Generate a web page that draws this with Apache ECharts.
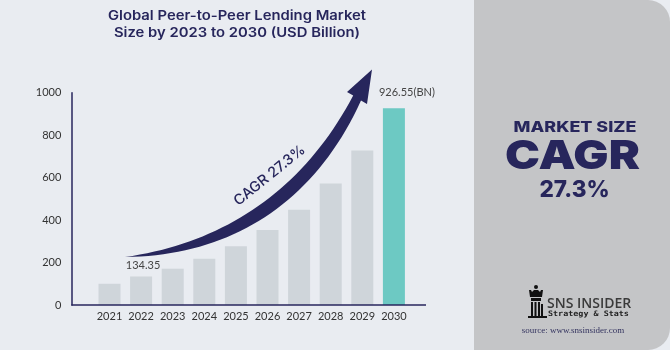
<!DOCTYPE html>
<html>
<head>
<meta charset="utf-8">
<script src="https://cdn.jsdelivr.net/npm/echarts@6/dist/echarts.min.js"></script>
<style>
html,body{margin:0;padding:0;background:#e9ecf1;}
#chart{width:670px;height:350px;}
</style>
</head>
<body>
<div id="chart"></div>
<script>
var categories = ['2021','2022','2023','2024','2025','2026','2027','2028','2029','2030'];
var marketSize = [100, 134.35, 171, 218, 277, 353, 449, 572, 728, 926.55];
var yTicks = [0, 200, 400, 600, 800, 1000];
var titleLines = ['Global Peer-to-Peer Lending Market', 'Size by 2023 to 2030 (USD Billion)'];
var cagrText = 'CAGR 27.3%';

var navy = '#27265c';
var chart = echarts.init(document.getElementById('chart'), null, {renderer: 'canvas'});

function bez(p0, p1, p2, p3, n) {
  var pts = [];
  for (var i = 0; i <= n; i++) {
    var t = i / n, u = 1 - t;
    pts.push([
      u*u*u*p0[0] + 3*u*u*t*p1[0] + 3*u*t*t*p2[0] + t*t*t*p3[0],
      u*u*u*p0[1] + 3*u*u*t*p1[1] + 3*u*t*t*p2[1] + t*t*t*p3[1]
    ]);
  }
  return pts;
}
var upper = bez([125,257],[225,243],[304,189],[353.2,95.5], 40);
var lower = bez([361,100.5],[314,204],[230,256],[125,257], 40);
var arrowPts = upper.concat([[347,92],[372,69.5],[367,104]]).concat(lower);

var barData = marketSize.map(function (v, i) {
  var last = i === marketSize.length - 1;
  var item = {value: v, itemStyle: {color: last ? '#6dc9c3' : '#cfd5da'}};
  if (i === 1) {
    item.label = {show: true, position: 'top', formatter: '134.35', offset: [2, -1]};
  }
  if (last) {
    item.label = {show: true, position: 'top', formatter: '926.55(BN)', offset: [13, -5]};
  }
  return item;
});

var option = {
  backgroundColor: '#e9ecf1',
  animation: false,
  grid: {left: 93.7, right: 260.3, top: 92.67, bottom: 45},
  xAxis: {
    type: 'category',
    data: categories,
    axisLine: {show: false},
    axisTick: {show: false},
    axisLabel: {color: '#333', fontSize: 11, fontFamily: 'Lato', margin: 6, interval: 0}
  },
  yAxis: {
    type: 'value',
    min: yTicks[0],
    max: yTicks[yTicks.length - 1],
    interval: 200,
    offset: 22.4,
    axisLine: {show: true, lineStyle: {color: navy, width: 1.5}},
    axisTick: {show: false},
    splitLine: {show: false},
    axisLabel: {color: '#333', fontSize: 11, fontFamily: 'Lato', margin: 10, formatter: function (v) { return String(v); }}
  },
  series: [{
    type: 'bar',
    data: barData,
    barWidth: 22,
    label: {color: '#444', fontSize: 11, fontFamily: 'Lato'}
  }],
  graphic: [
    {type: 'rect', z: -10, shape: {x: 474, y: 0, width: 196, height: 350, r: [0, 22, 22, 0]}, style: {fill: '#c4c5c7'}},
    {type: 'line', z: 10, shape: {x1: 71.3, y1: 305, x2: 426, y2: 305}, style: {stroke: navy, lineWidth: 1.5}},
    {type: 'text', x: 237, y: 16, scaleX: 1.14, style: {text: titleLines[0], fill: navy, font: '600 13px Inter', align: 'center', verticalAlign: 'middle'}},
    {type: 'text', x: 237, y: 33, scaleX: 1.14, style: {text: titleLines[1], fill: navy, font: '600 13px Inter', align: 'center', verticalAlign: 'middle'}},
    {type: 'polygon', z: 20, shape: {points: arrowPts}, style: {fill: navy}},
    {type: 'text', z: 20, x: 269.5, y: 175.5, rotation: 0.68, style: {text: cagrText, fill: navy, font: '500 14.5px Inter', align: 'center', verticalAlign: 'middle'}},
    {type: 'text', x: 575, y: 128, scaleX: 1.22, style: {text: 'MARKET SIZE', fill: navy, font: '800 14.7px Inter', align: 'center', verticalAlign: 'middle'}},
    {type: 'text', x: 572.5, y: 156.5, scaleX: 1.17, style: {text: 'CAGR', fill: navy, font: '900 40px Inter', align: 'center', verticalAlign: 'middle'}},
    {type: 'text', x: 574.5, y: 190.5, style: {text: '27.3%', fill: navy, font: '800 22.5px Inter', align: 'center', verticalAlign: 'middle'}},
    {type: 'circle', shape: {cx: 536, cy: 287, r: 2}, style: {fill: '#111'}},
    {type: 'polygon', shape: {points: [[529,290],[531,290],[532,292],[534,290],[538,290],[540,292],[541,290],[543,290],[542,297],[530,297]]}, style: {fill: '#111'}},
    {type: 'rect', shape: {x: 531, y: 298, width: 10, height: 3}, style: {fill: '#111'}},
    {type: 'rect', shape: {x: 531, y: 302, width: 2, height: 14}, style: {fill: '#111'}},
    {type: 'rect', shape: {x: 534.5, y: 302, width: 2, height: 14}, style: {fill: '#111'}},
    {type: 'rect', shape: {x: 538, y: 302, width: 2, height: 14}, style: {fill: '#111'}},
    {type: 'rect', shape: {x: 541, y: 304, width: 2, height: 12}, style: {fill: '#111'}},
    {type: 'rect', shape: {x: 528, y: 316, width: 19, height: 2}, style: {fill: '#111'}},
    {type: 'text', x: 547, y: 304, style: {text: 'SNS INSIDER', fill: '#3a3a3a', font: '600 14px "Open Sans"', align: 'left', verticalAlign: 'middle'}},
    {type: 'text', x: 548, y: 314, scaleX: 1.12, style: {text: 'Strategy & Stats', fill: '#222', font: 'bold 7.5px "DejaVu Sans Mono"', align: 'left', verticalAlign: 'middle'}},
    {type: 'text', x: 573, y: 330.5, style: {text: 'source: www.snsinsider.com', fill: '#33335f', font: '9px "Liberation Serif"', align: 'center', verticalAlign: 'middle'}}
  ]
};
chart.setOption(option);
</script>
</body>
</html>
